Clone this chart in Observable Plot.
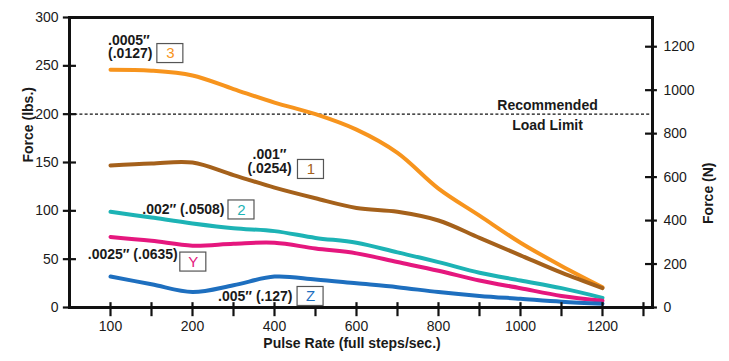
<!DOCTYPE html>
<html><head><meta charset="utf-8">
<script src="https://cdn.jsdelivr.net/npm/d3@7"></script>
<script src="https://cdn.jsdelivr.net/npm/@observablehq/plot@0.6"></script>
<style>
body{margin:0;background:#fff}
#chart svg{font-family:"Liberation Sans",Arial,sans-serif}
</style></head><body><div id="chart"></div>
<script>
// Pulse rate (full steps/sec.)
const pulse = [100,150,200,300,400,500,600,700,800,900,1000,1100,1200];
// Force (lbs.) per curve
const force3 = [246,245,240,226,212,200,184,160,123,95,67,43,21];
const force1 = [147,149,150,137,124,113,103,99,90,72,54,36,20];
const force2 = [99,93,87,82,79,72,67,57,47,36,28,20,10];
const forceY = [73,69,64,66,67,61,56,47,38,28,20,12,7];
const forceZ = [32,24,16,23,32,29,25,21,16,12,9,6,4];

const seriesNames = ["3","1","2","Y","Z"];
const seriesColors = ["#f7941d","#a5611b","#1db3b5","#e5177e","#1e6fbf"];
const seriesValues = [force3, force1, force2, forceY, forceZ];

const xTickLabels = [100,200,400,600,800,1000,1200];
const xMinorTicks = [150,300,500,700,900,1100,1300];
const yTicksLbs = [0,50,100,150,200,250,300];
const yTicksN = [0,200,400,600,800,1000,1200];
const lbsToN = 4.448;

// Annotation labels
const labelsStart = [
  {text: ".0005″\n(.0127)", x: 97, y: 269.5}
];
const labelsMiddle = [
  {text: ".001″\n(.0254)", x: 388, y: 151}
];
const labelsEnd = [
  {text: ".002″ (.0508)", x: 278, y: 101},
  {text: ".0025″ (.0635)", x: 182, y: 55},
  {text: ".005″ (.127)", x: 444, y: 11.4}
];
const boxes = [
  {name: "3", x: 173, y: 262.7},
  {name: "1", x: 489, y: 142.8},
  {name: "2", x: 319.5, y: 100.9},
  {name: "Y", x: 202, y: 47},
  {name: "Z", x: 488, y: 11.4}
];
const limitLabels = [
  {text: "Recommended\nLoad Limit", x: 1066, y: 200.5}
];

const rows = [];
seriesNames.forEach((s, k) => pulse.forEach((p, i) => rows.push({series: s, pulse: p, force: seriesValues[k][i]})));

const chart = Plot.plot({
  width: 729,
  height: 361,
  marginTop: 17,
  marginBottom: 54,
  marginLeft: 69,
  marginRight: 77,
  style: {fontFamily: "Liberation Sans, Arial, sans-serif", fontSize: "14px", color: "#1a1a1a", background: "#fff"},
  x: {type: "linear", domain: [50, 200, 1322], range: [69, 192, 652]},
  y: {domain: [0, 300]},
  color: {domain: seriesNames, range: seriesColors},
  marks: [
    Plot.ruleY([200], {stroke: "#111", strokeDasharray: "3,2.2", strokeWidth: 1.3}),
    Plot.line(rows, {x: "pulse", y: "force", z: "series", stroke: "series", strokeWidth: 4, curve: "catmull-rom", strokeLinecap: "round"}),
    Plot.frame({stroke: "#111", strokeWidth: 3}),
    Plot.ruleX([...xTickLabels, ...xMinorTicks], {y1: -9.5, y2: 5, stroke: "#111", strokeWidth: 2.2}),
    Plot.ruleY(yTicksLbs, {x1: 42.5, x2: 58.5, stroke: "#111", strokeWidth: 2.2}),
    Plot.ruleY(yTicksN, {y: d => d / lbsToN, x1: 1305, x2: 1334, stroke: "#111", strokeWidth: 2.2}),
    Plot.axisY(yTicksLbs, {anchor: "left", tickSize: 0, tickPadding: 11, label: null}),
    Plot.axisY(yTicksN.map(n => n / lbsToN), {anchor: "right", tickSize: 0, tickPadding: 11, label: null, tickFormat: d => String(Math.round(d * lbsToN))}),
    Plot.axisX(xTickLabels, {tickSize: 0, tickPadding: 14, label: null, tickFormat: d => String(d)}),
    Plot.text(["Force (lbs.)"], {frameAnchor: "left", rotate: -90, dx: -41, fontWeight: "bold"}),
    Plot.text(["Force (N)"], {frameAnchor: "right", rotate: -90, dx: 56, fontWeight: "bold"}),
    Plot.text(["Pulse Rate (full steps/sec.)"], {frameAnchor: "bottom", dy: 40, dx: -9, fontWeight: "bold"}),
    Plot.text(limitLabels, {x: "x", y: "y", text: "text", fontWeight: "bold", lineHeight: 1.45}),
    Plot.text(labelsStart, {x: "x", y: "y", text: "text", textAnchor: "start", fontWeight: "bold", lineHeight: 0.95}),
    Plot.text(labelsMiddle, {x: "x", y: "y", text: "text", textAnchor: "middle", fontWeight: "bold", lineHeight: 0.98}),
    Plot.text(labelsEnd, {x: "x", y: "y", text: "text", textAnchor: "end", fontWeight: "bold"}),
    Plot.rect(boxes, {x1: "x", x2: "x", y1: "y", y2: "y", insetLeft: -13, insetRight: -13, insetTop: -9.5, insetBottom: -9.5, fill: "#fff", stroke: "#555", strokeWidth: 1.2}),
    Plot.text(boxes, {x: "x", y: "y", text: "name", fill: d => seriesColors[seriesNames.indexOf(d.name)], fontSize: 15})
  ]
});
document.getElementById("chart").appendChild(chart);
</script></body></html>
